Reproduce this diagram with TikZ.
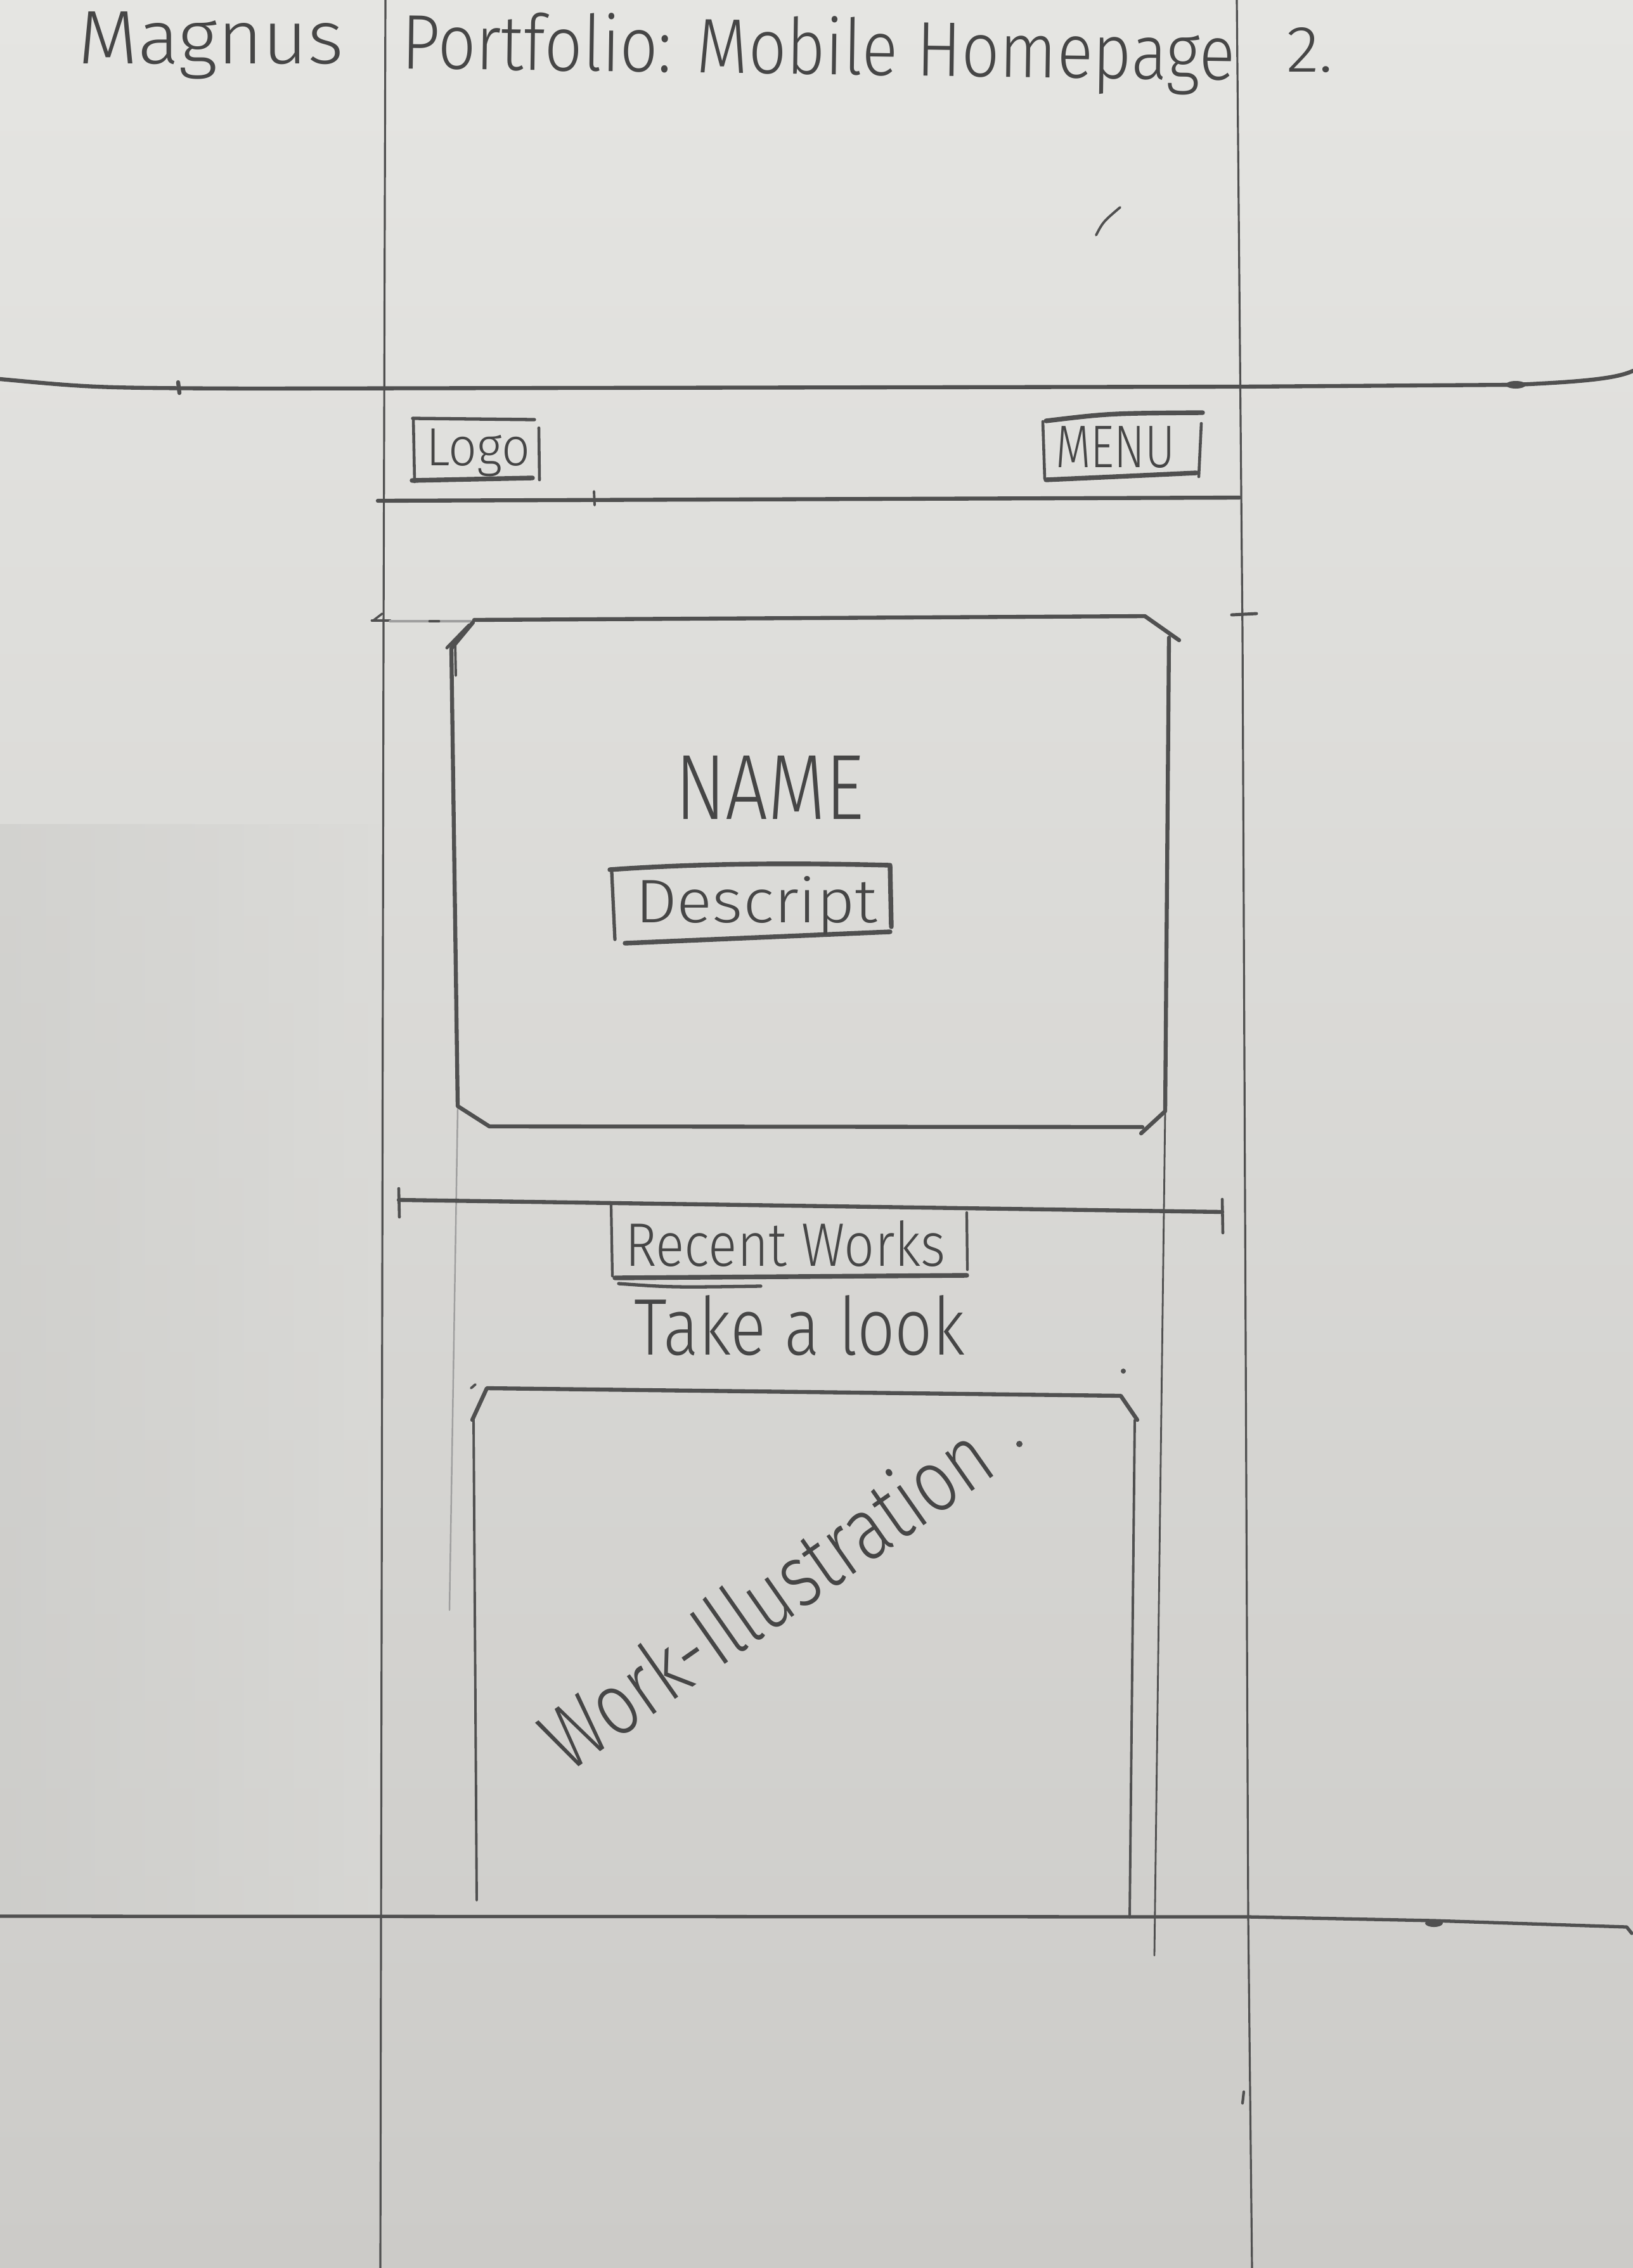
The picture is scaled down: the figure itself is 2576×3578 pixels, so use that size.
\documentclass[tikz,border=0pt]{standalone}
\usepackage{fontspec}
\newfontfamily\hand{Fira Sans Light}
\definecolor{paperTop}{RGB}{229,229,226}
\definecolor{paperMid}{RGB}{219,219,216}
\definecolor{paperBot}{RGB}{204,203,200}
\definecolor{lead}{RGB}{80,80,80}
\definecolor{leadtext}{RGB}{70,70,70}
\tikzset{
  gridline/.style={draw=lead, line width=0.9pt, line cap=round},
  heavyline/.style={draw=lead, line width=1.8pt, line cap=round, line join=round},
  boxline/.style={draw=lead, line width=2.1pt, line cap=round, line join=round},
  sideline/.style={draw=lead, line width=1.1pt, line cap=round},
  faintline/.style={draw=lead!55, line width=0.7pt, line cap=round},
  scribble/.style={inner sep=0pt, outer sep=0pt, text=leadtext, font=\hand, anchor=base west},
}
% hand-lettered word stretched to a given width and height (cm)
\newcommand{\lettered}[3]{\resizebox{#1cm}{#2cm}{#3}}
\begin{document}
\begin{tikzpicture}[x=0.01cm, y=-0.01cm]
  % sheet of paper
  \useasboundingbox (0,0) rectangle (2576,3578);
  \shade[top color=paperTop, middle color=paperMid, bottom color=paperBot] (0,0) rectangle (2576,3578);
  % slightly darker left margin of the sheet
  \shade[left color=paperMid!93!black, right color=paperMid, opacity=0.6] (0,1300) rectangle (600,3022);

  % page heading
  \node[scribble] (magnus) at (123,100) {\lettered{4.19}{0.82}{Magnus}};
  \node[scribble, rotate=-0.8] (title) at (633,108) {\lettered{13.14}{0.92}{Portfolio: Mobile Homepage}};
  \node[scribble] (pagenum) at (2029,113) {\lettered{0.74}{0.70}{2.}};
  \draw[sideline] (1729,371) .. controls (1740,350) .. (1767,327);

  % screen frame: outer guides
  \draw[heavyline] (0,598) .. controls (150,612) .. (400,613) -- (1956,610)
        -- (2391,607) .. controls (2500,602) and (2550,597) .. (2576,585);
  \draw[heavyline] (281,603) -- (283,620);
  \fill[lead] (2391,607) ellipse (16 and 6);
  \draw[gridline] (608,0) -- (605,1000) -- (600,3578);
  \draw[gridline] (1951,0) -- (1960,1000) -- (1969,3024) -- (1975,3578);
  \draw[heavyline, line width=1.5pt] (0,3023) -- (1969,3024) -- (2262,3030)
        -- (2566,3040) -- (2574,3050);
  \fill[lead] (2262,3034) ellipse (14 and 6);
  \draw[heavyline, line width=1.2pt] (1962,3300) -- (1960,3318);

  % header bar with logo and menu
  \draw[heavyline] (596,790) -- (1955,785);
  \draw[sideline] (937,775) -- (938,797);
  \draw[boxline, line width=1.5pt] (651,660) -- (843,662);
  \draw[boxline, line width=1.3pt] (652,660) -- (654,760);
  \draw[boxline] (650,758) -- (840,754);
  \draw[boxline, line width=1.3pt] (850,675) -- (851,757);
  \node[scribble] (logo) at (672,734) {\lettered{1.64}{0.58}{Logo}};

  \draw[boxline] (1650,664) .. controls (1750,652) .. (1897,651);
  \draw[boxline, line width=1.3pt] (1645,665) -- (1648,755);
  \draw[boxline] (1650,757) .. controls (1760,752) .. (1887,746);
  \draw[boxline, line width=1.3pt] (1895,668) -- (1891,752);
  \node[scribble] (menu) at (1665,737) {\lettered{1.88}{0.65}{MENU}};

  % alignment ticks at the hero top
  \draw[heavyline, line width=1.4pt] (587,979) -- (615,979);
  \draw[heavyline, line width=1.0pt] (590,978) -- (603,968);
  \draw[faintline, line width=1.0pt] (615,980) -- (745,980);
  \draw[heavyline, line width=1.4pt] (678,980) -- (692,980);
  \draw[heavyline, line width=1.4pt] (1943,970) -- (1982,968);

  % hero panel with chamfered corners
  \draw[boxline, line width=1.8pt] (748,978) -- (1806,972) -- (1860,1010);
  \draw[boxline, line width=1.8pt] (1844,1006) -- (1838,1753) -- (1800,1788);
  \draw[boxline, line width=1.8pt] (1802,1778) -- (772,1777) -- (722,1745)
        -- (712,1023) -- (746,982);
  \draw[boxline, line width=1.4pt] (705,1022) -- (740,986);
  \draw[sideline] (718,1012) -- (719,1066);
  \node[scribble] (name) at (1065,1292) {\lettered{2.98}{1.00}{NAME}};
  \draw[boxline] (962,1372) .. controls (1100,1362) and (1250,1361) .. (1404,1365) -- (1406,1462);
  \draw[boxline, line width=1.5pt] (965,1376) -- (970,1482);
  \draw[boxline] (986,1488) -- (1404,1470);
  \node[scribble] (descript) at (1002,1455) {\lettered{3.82}{0.73}{Descript}};

  % column guides below the hero
  \draw[faintline] (722,1750) -- (709,2540);
  \draw[gridline, line width=0.8pt] (1838,1753) -- (1821,3085);

  % section heading
  \draw[heavyline] (629,1893) -- (1928,1912);
  \draw[heavyline, line width=1.3pt] (629,1875) -- (630,1920);
  \draw[heavyline, line width=1.3pt] (1928,1892) -- (1929,1945);
  \draw[boxline, line width=1.2pt] (964,1900) -- (966,2013);
  \draw[boxline, line width=1.2pt] (1525,1913) -- (1526,2003);
  \draw[boxline] (970,2016) -- (1525,2012);
  \draw[boxline, line width=1.5pt] (976,2025) .. controls (1060,2031) .. (1200,2029);
  \node[scribble] (recent) at (986,1997) {\lettered{5.05}{0.72}{Recent Works}};
  \node[scribble] (look) at (1000,2137) {\lettered{5.22}{0.94}{Take a look}};

  % work preview panel, open at the bottom
  \draw[boxline, line width=1.8pt] (745,2240) -- (768,2190) -- (1768,2202) -- (1794,2240);
  \draw[sideline] (743,2190) -- (750,2184);
  \draw[sideline] (747,2236) -- (752,2998);
  \draw[sideline] (1790,2240) -- (1782,3025);
  \fill[lead] (1772,2163) circle (4);
  \node[scribble, anchor=center, rotate=35] (illus) at (1207,2518)
        {\lettered{8.3}{1.05}{Work-Illustration}};
  \fill[lead] (1608,2278) circle (5);
\end{tikzpicture}
\end{document}
